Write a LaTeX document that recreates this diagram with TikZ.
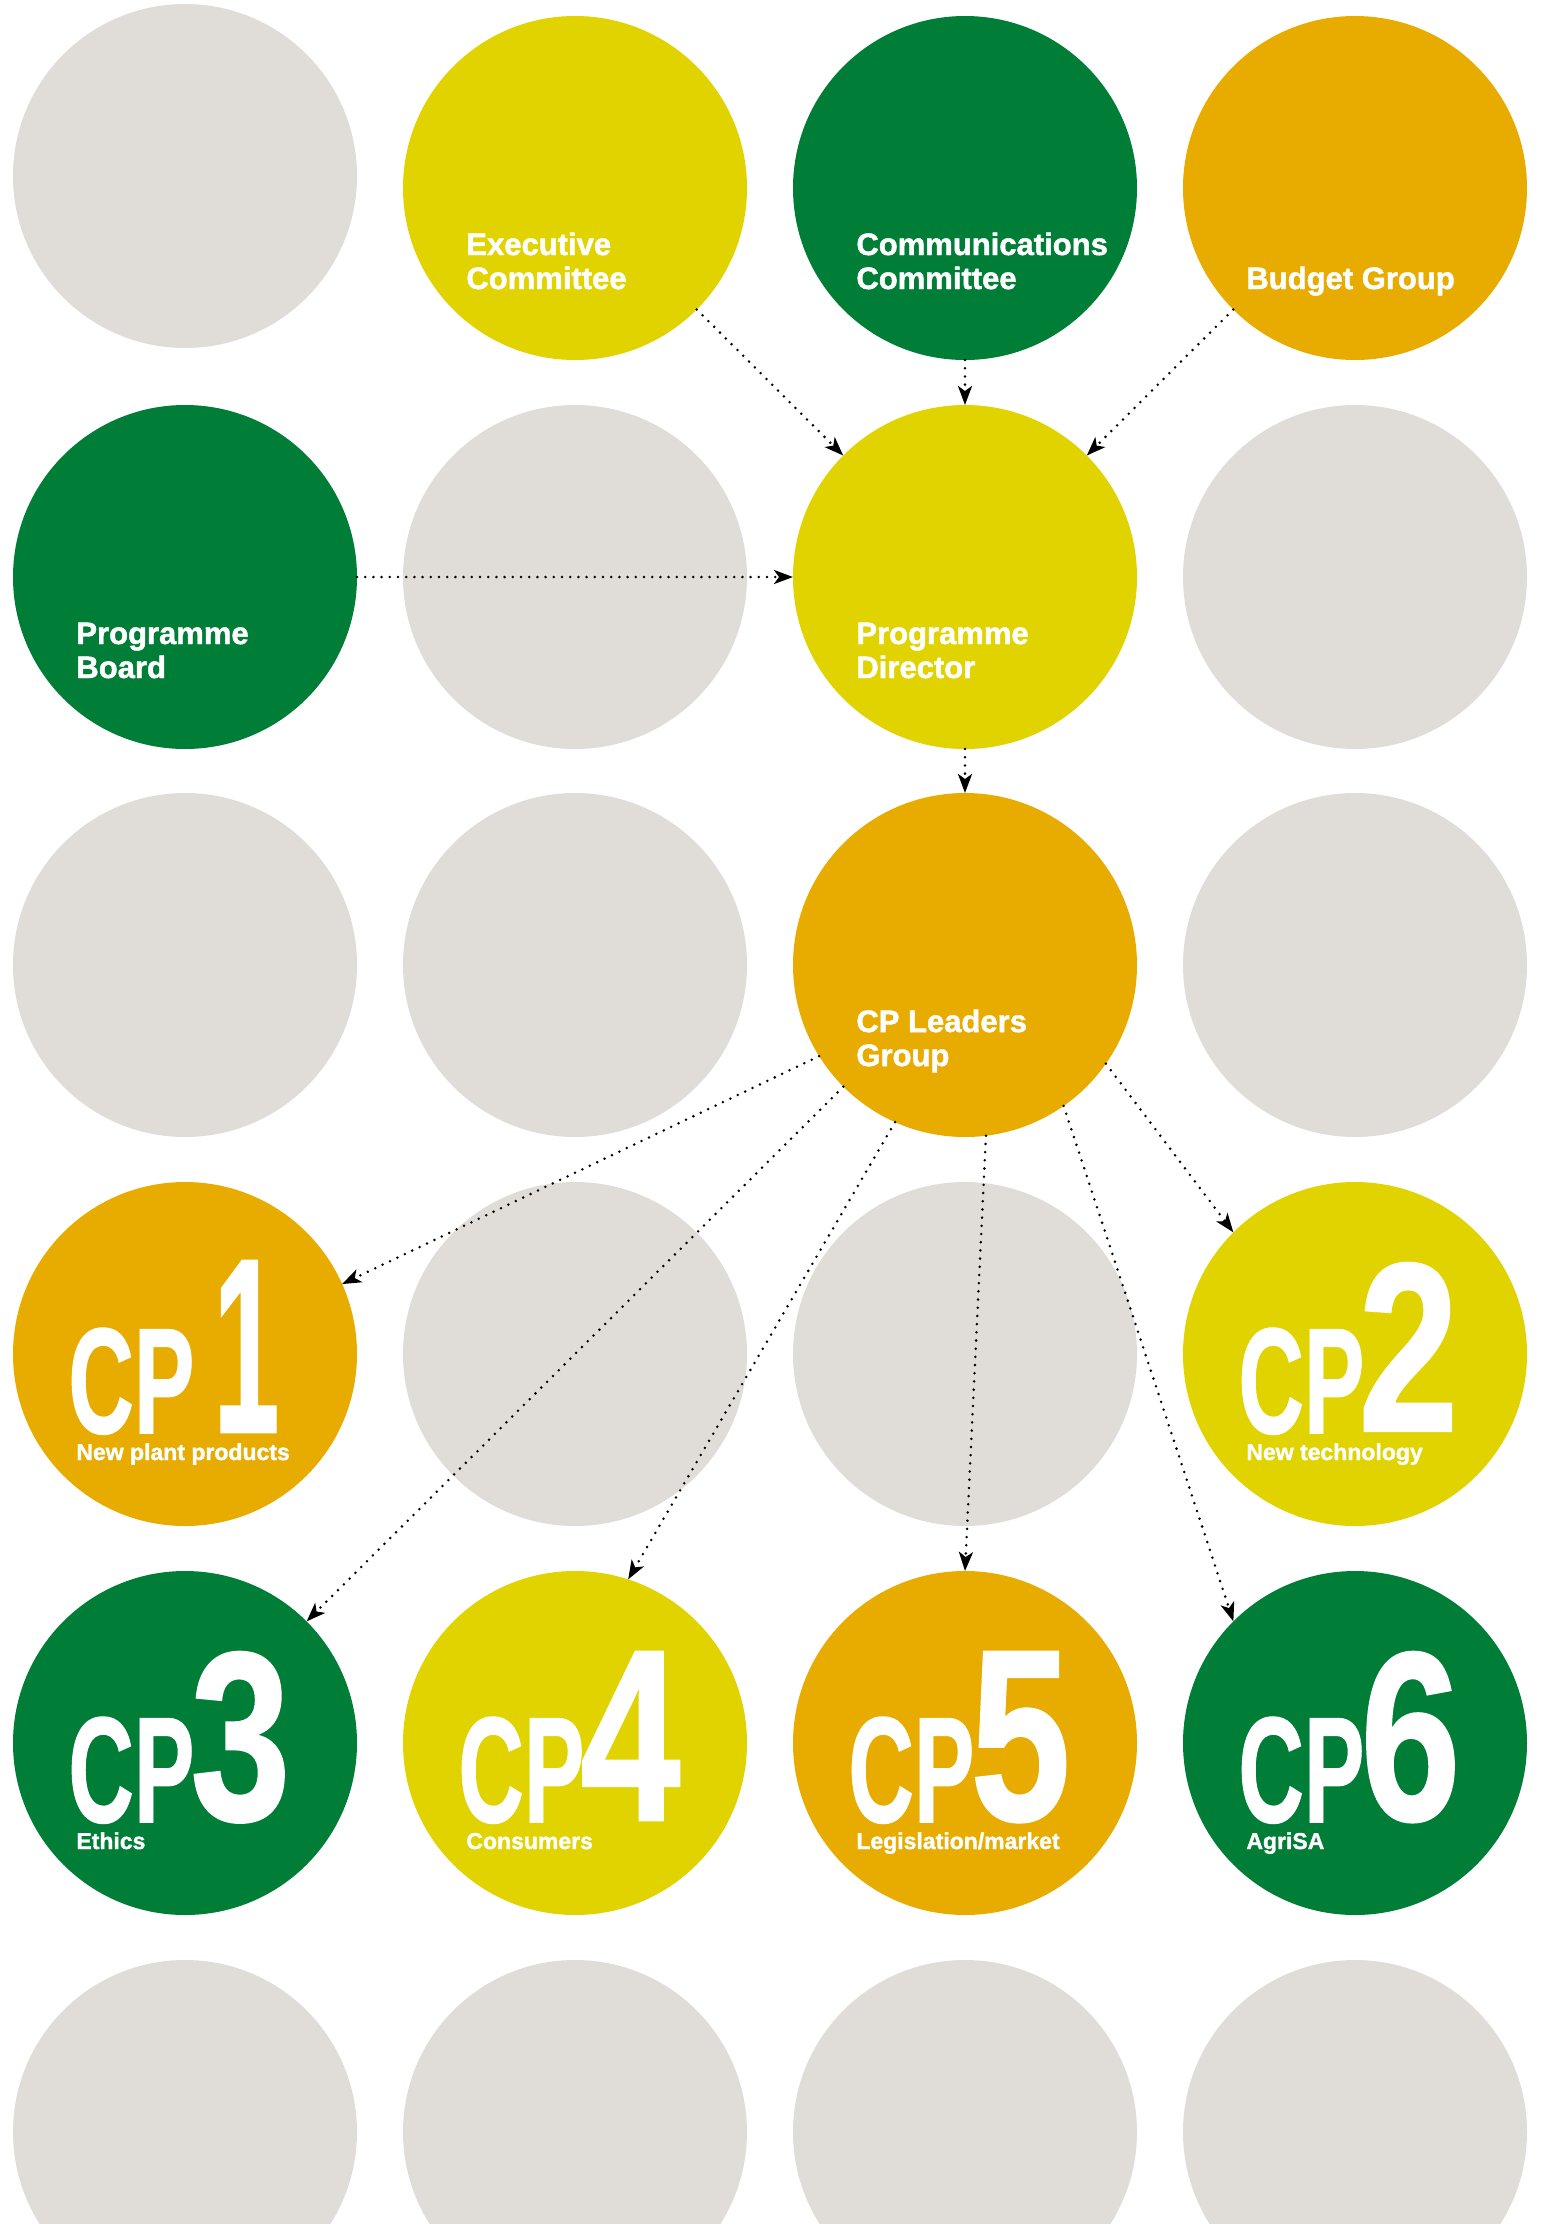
\documentclass[tikz,border=0pt]{standalone}
\usepackage{fontspec}
\usepackage{graphicx}
\setmainfont{Liberation Sans}
\newfontfamily\lblfont{Liberation Sans}[FakeBold=1.5]
\newfontfamily\cpfont{Liberation Sans}[FakeBold=1]
\usetikzlibrary{arrows.meta}

\definecolor{cgray}{HTML}{E0DCD8}
\definecolor{clime}{HTML}{E0D300}
\definecolor{cgreen}{HTML}{007D36}
\definecolor{camber}{HTML}{E8AC00}

\tikzset{
  orb/.style={circle, minimum size=172pt, inner sep=0pt, outer sep=0pt, fill=#1},
  lbl/.style={anchor=base west, inner sep=0pt, text=white,
    font=\lblfont\bfseries\fontsize{15.5pt}{17pt}\selectfont},
  sub/.style={anchor=base west, inner sep=0pt, text=white,
    font=\lblfont\bfseries\fontsize{11.5pt}{12pt}\selectfont},
  big/.style={anchor=base west, inner sep=0pt, text=white, font=\cpfont\bfseries},
  link/.style={line width=1.4pt, line cap=round, dash pattern=on 0pt off 4.1pt,
    -{Stealth[length=9.5pt,width=7pt,inset=2.5pt]}},
}

% CP badge: big "CP", the programme digit, and the caption underneath
\newcommand{\cpbadge}[5]{% name, cx, cy, digit node, caption
  \node[big] (#1-cp) at (#2-117, #3+79) {\resizebox{63pt}{52.5pt}{CP}};
  #4
  \node[sub] (#1-cap) at (#2-109, #3+106) {#5};
}

\begin{document}
\begin{tikzpicture}[x=0.5pt, y=-0.5pt]
\useasboundingbox (0,0) rectangle (1543,2224);

% row 1
\node[orb=cgray]  (g11)    at (185,176) {};
\node[orb=clime]  (exec)   at (575,188) {};
\node[orb=cgreen] (comm)   at (965,188) {};
\node[orb=camber] (budget) at (1355,188) {};
% row 2
\node[orb=cgreen] (pb)  at (185,577) {};
\node[orb=cgray]  (g22) at (575,577) {};
\node[orb=clime]  (pd)  at (965,577) {};
\node[orb=cgray]  (g24) at (1355,577) {};
% row 3
\node[orb=cgray]  (g31) at (185,965) {};
\node[orb=cgray]  (g32) at (575,965) {};
\node[orb=camber] (cpl) at (965,965) {};
\node[orb=cgray]  (g34) at (1355,965) {};
% row 4
\node[orb=camber] (cp1) at (185,1354) {};
\node[orb=cgray]  (g42) at (575,1354) {};
\node[orb=cgray]  (g43) at (965,1354) {};
\node[orb=clime]  (cp2) at (1355,1354) {};
% row 5
\node[orb=cgreen] (cp3) at (185,1743) {};
\node[orb=clime]  (cp4) at (575,1743) {};
\node[orb=camber] (cp5) at (965,1743) {};
\node[orb=cgreen] (cp6) at (1355,1743) {};
% row 6
\node[orb=cgray] (g61) at (185,2132) {};
\node[orb=cgray] (g62) at (575,2132) {};
\node[orb=cgray] (g63) at (965,2132) {};
\node[orb=cgray] (g64) at (1355,2132) {};

% committee labels
\node[lbl] (exec-1) at (466,255) {Executive};
\node[lbl] (exec-2) at (466,289) {Committee};
\node[lbl] (comm-1) at (856,255) {Communications};
\node[lbl] (comm-2) at (856,289) {Committee};
\node[lbl] (budget-1) at (1246,289) {Budget Group};
\node[lbl] (pb-1) at (76,644) {Programme};
\node[lbl] (pb-2) at (76,678) {Board};
\node[lbl] (pd-1) at (856,644) {Programme};
\node[lbl] (pd-2) at (856,678) {Director};
\node[lbl] (cpl-1) at (856,1032) {CP Leaders};
\node[lbl] (cpl-2) at (856,1066) {Group};

% CP badges
\cpbadge{b1}{185}{1354}{\node[big] (b1-num) at (213,1432) {\resizebox{33pt}{85.5pt}{1}};}{New plant products}
\cpbadge{b2}{1355}{1354}{\node[big] (b2-num) at (1358,1431) {\resizebox{50pt}{84pt}{2}};}{New technology}
\cpbadge{b3}{185}{1743}{\node[big] (b3-num) at (190,1820) {\resizebox{50pt}{84pt}{3}};}{Ethics}
\cpbadge{b4}{575}{1743}{\node[big] (b4-num) at (580,1820) {\resizebox{50pt}{84pt}{4}};}{Consumers}
\cpbadge{b5}{965}{1743}{\node[big] (b5-num) at (970,1820) {\resizebox{50pt}{84pt}{5}};}{Legislation/market}
\cpbadge{b6}{1355}{1743}{\node[big] (b6-num) at (1360,1820) {\resizebox{50pt}{84pt}{6}};}{AgriSA}

% reporting lines
\draw[link] (exec) -- (pd);
\draw[link] (comm) -- (pd);
\draw[link] (budget) -- (pd);
\draw[link] (pb) -- (pd);
\draw[link] (pd) -- (cpl);
\draw[link] (cpl.212) -- (cp1.24);
\draw[link] (cpl.325) -- (cp2.135);
\draw[link] (cpl.225) -- (cp3.45);
\draw[link] (cpl.246) -- (cp4.72);
\draw[link] (cpl.277) -- (cp5.90);
\draw[link] (cpl.305) -- (cp6.135);
\end{tikzpicture}
\end{document}
